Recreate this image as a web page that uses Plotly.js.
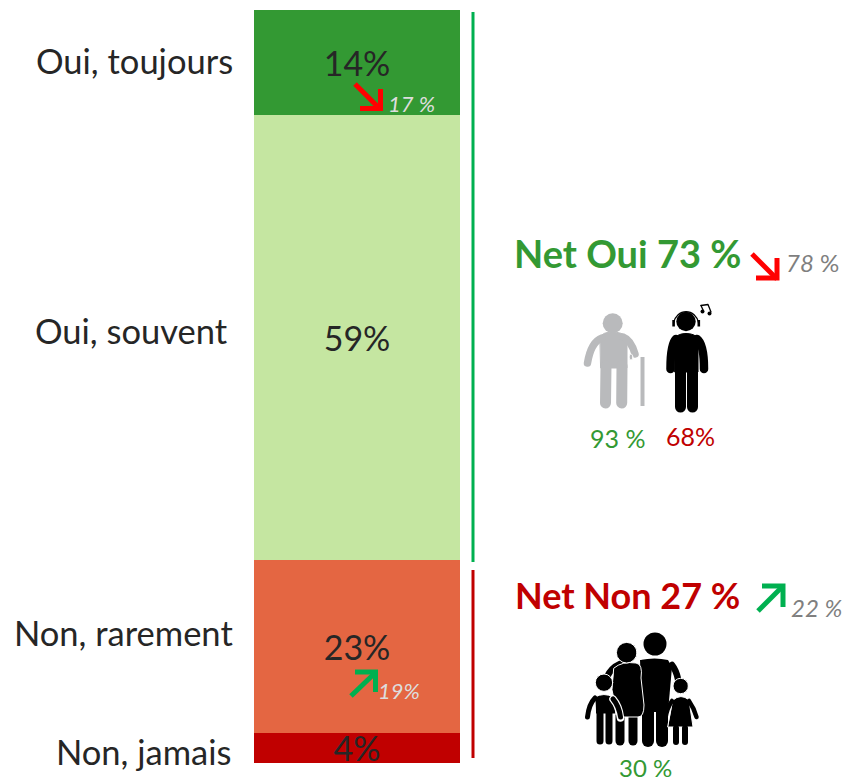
<!DOCTYPE html>
<html><head><meta charset="utf-8">
<script src="https://cdn.plot.ly/plotly-3.0.1.min.js"></script>
<style>html,body{margin:0;padding:0;background:#fff}#c{width:846px;height:782px}</style>
</head><body><div id="c"></div>
<script>
// Data
const categories = ['Oui, toujours','Oui, souvent','Non, rarement','Non, jamais'];
const values = [14,59,23,4];
const barColors = ['#339933','#C5E6A1','#E46642','#C00000'];
const previousBar = ['17 %','19%'];
const netLabels = ['Net Oui 73 %','Net Non 27 %'];
const previousNet = ['<i>78</i> %','<i>22 %</i>'];
const profileLabels = ['93 %','68%','30 %'];

const W=846,H=782,L=254,R=460,T=10,B=763;
const px=x=>(x-L)/(R-L), py=y=>1-(y-T)/(B-T);
const FONT='Lato, Carlito, Calibri, sans-serif';
const DARK='#262626',GREEN='#339933',RED='#C00000',GREY='#7F7F7F',LIGHT='#DDDDDD',ARROW_G='#00B050',ARROW_R='#FF0000';

const traces = categories.map((c,i)=>({
  type:'bar', x:['Total'], y:[values[i]], name:c, orientation:'v',
  marker:{color:barColors[i],line:{width:0}},
  text:[values[i]+'%'], textposition:'inside', insidetextanchor:'middle', textangle:0,
  constraintext:'none', textfont:{family:FONT,size:34,color:DARK}, hoverinfo:'name+y'
}));

function ann(text,x,y,size,color){
  return {text,xref:'paper',yref:'paper',x:px(x),y:py(y),xanchor:'center',yanchor:'middle',
    showarrow:false,font:{family:FONT,size,color},borderpad:0};
}
const annotations=[
  ann(categories[0],134.5,60.5,34.5,DARK),
  ann(categories[1],131.5,330.5,34.5,DARK),
  ann(categories[2],123,632.5,34.5,DARK),
  ann(categories[3],143.5,751.5,34.5,DARK),
  ann('<i>'+previousBar[0]+'</i>',411,103,22,LIGHT),
  ann('<i>'+previousBar[1]+'</i>',399,690.5,22,LIGHT),
  ann('<b>'+netLabels[0]+'</b>',627.5,253,38,GREEN),
  ann('<b>'+netLabels[1]+'</b>',627.5,595,36,RED),
  ann(previousNet[0],812.5,263,24,GREY),
  ann(previousNet[1],816,607,24,GREY),
  ann(profileLabels[0],617.5,437.5,25,GREEN),
  ann(profileLabels[1],690.5,435.5,25,RED),
  ann(profileLabels[2],645,767.5,24,GREEN)
];

function poly(points,color,w){
  return {type:'path',xref:'paper',yref:'paper',layer:'above',
    path:points.map((p,i)=>(i?'L':'M')+px(p[0])+','+py(p[1])).join(' '),
    line:{color,width:w},fillcolor:'rgba(0,0,0,0)'};
}
function vline(x,y0,y1,color){
  return {type:'line',xref:'paper',yref:'paper',x0:px(x),x1:px(x),y0:py(y0),y1:py(y1),line:{color,width:3}};
}
const shapes=[
  vline(473,12,562,ARROW_G),
  vline(473,570,758,RED),
  poly([[355,84],[380,109]],ARROW_R,5),
  poly([[360,108.5],[380.5,108.5],[380.5,89]],ARROW_R,5),
  poly([[752,254],[777,279]],ARROW_R,5),
  poly([[756,278],[777,278],[777,258]],ARROW_R,5),
  poly([[758,611],[783,586]],ARROW_G,5),
  poly([[762,586],[783,586],[783,607]],ARROW_G,5),
  poly([[351,696],[376,672]],ARROW_G,5),
  poly([[355,672],[375.5,672],[375.5,692]],ARROW_G,5)
];

// Pictograms: small inline SVGs placed in the layout
function picto(body,x0,y0,w,h){
  const svg=`<svg xmlns="http://www.w3.org/2000/svg" width="${w*3}" height="${h*3}" viewBox="${x0} ${y0} ${w} ${h}">${body}</svg>`;
  return {source:'data:image/svg+xml;charset=utf-8,'+encodeURIComponent(svg),xref:'paper',yref:'paper',
    x:px(x0),y:py(y0),sizex:w/(R-L),sizey:h/(B-T),xanchor:'left',yanchor:'top',sizing:'stretch',layer:'above'};
}
const elder=`<g fill="none" stroke="#B9BABC" stroke-linecap="round" stroke-linejoin="round">
<circle cx="612.7" cy="323.3" r="10" fill="#B9BABC" stroke="none"/>
<path d="M600,337 Q603,332 612,332 Q622,332 627,337 L627,368 L601,368 Z" fill="#B9BABC" stroke="#B9BABC" stroke-width="1"/>
<path d="M602,338 Q591,342 587.5,363" stroke-width="7.5"/>
<path d="M623,337 Q631,340 635,354" stroke-width="7.5"/>
<path d="M606,366 L605.5,403" stroke-width="11"/>
<path d="M622,366 L621.7,403" stroke-width="11"/>
<path d="M642.5,357 L642.5,406" stroke-width="4" stroke-linecap="butt"/>
<ellipse cx="631" cy="357" rx="1.8" ry="3" fill="#B9BABC" stroke="#fff" stroke-width="0.8"/>
</g>`;
const youth=`<g fill="none" stroke="#000" stroke-linecap="round" stroke-linejoin="round">
<circle cx="686" cy="321.5" r="9.7" fill="#000" stroke="none"/>
<path d="M673.5,323 A13,15 0 0 1 698.7,323" stroke-width="1.3"/>
<rect x="672.3" y="320" width="2.6" height="6.5" fill="#000" stroke="none"/>
<rect x="697.5" y="320" width="2.6" height="6.5" fill="#000" stroke="none"/>
<path d="M675,338 Q678,333.5 686,333.5 Q694,333.5 698,338 L698,372 L675,372 Z" fill="#000" stroke="#000"/>
<path d="M676,339 Q670.5,344 670.5,369" stroke-width="8.5"/>
<path d="M697,339 Q704,344 704,369" stroke-width="8.5"/>
<path d="M680.5,370 L680.5,407" stroke-width="11"/>
<path d="M692.5,370 L692.5,407" stroke-width="11"/>
<path d="M701,305.5 L708,304.5 L711,312" stroke-width="1.3"/>
<circle cx="702.5" cy="311.5" r="2" fill="#000" stroke="none"/>
<circle cx="709.5" cy="313.5" r="2" fill="#000" stroke="none"/>
<path d="M701,305.5 L703.5,311" stroke-width="1.3"/>
</g>`;
const family=`<g fill="#000" stroke-linecap="round" stroke-linejoin="round">
<circle cx="655" cy="644" r="11.5"/>
<g fill="none" stroke="#000"><path d="M672,665 Q676,670 678,679" stroke-width="6.5"/>
<path d="M648,708 L648,741" stroke-width="12"/><path d="M662,708 L662,741" stroke-width="12"/></g>
<path d="M640,660 Q655,657 668,660 L672,667 L668,712 L642,712 Z"/>
<path d="M641,659 L626,661" fill="none" stroke="#fff" stroke-width="1.5"/>
<g fill="none" stroke="#000"><path d="M620,664 Q611,668 607,677" stroke-width="6.5"/>
<path d="M620,715 L620,741" stroke-width="9"/><path d="M633,715 L633,741" stroke-width="9"/></g>
<path d="M614,668 Q622,661 636,663 Q643,664 641,678 L644,705 Q644,717 638,717 L618,717 L612,690 Z" stroke="#fff" stroke-width="1"/>
<circle cx="626.7" cy="652.7" r="10.3" stroke="#fff" stroke-width="1"/>
<path d="M595,697 Q604,692 613,697 L616,714 L596,714 Z" stroke="#fff" stroke-width="1"/>
<g fill="none" stroke="#fff" stroke-width="7.5"><path d="M613,699 Q619,706 620.5,718"/></g>
<g fill="none" stroke="#000"><path d="M595,698 Q589,704 587.5,717" stroke-width="5"/>
<path d="M613,699 Q619,706 620.5,717" stroke-width="5"/>
<path d="M600,712 L600,741" stroke-width="7"/><path d="M609,712 L609,741" stroke-width="7"/></g>
<circle cx="604" cy="682.7" r="8.7" stroke="#fff" stroke-width="1"/>
<path d="M673,700 Q681,693 689,700 L693,727 L668,727 Z" stroke="#fff" stroke-width="1"/>
<g fill="none" stroke="#000"><path d="M672,701 Q667,708 665.5,718" stroke-width="4.5"/>
<path d="M689,701 Q694,708 696.5,717" stroke-width="4.5"/>
<path d="M676,728 L676,742" stroke-width="6"/><path d="M685,728 L685,742" stroke-width="6"/></g>
<circle cx="680.7" cy="686" r="7.7" stroke="#fff" stroke-width="1"/>
</g>`;
const images=[picto(elder,580,310,68,102),picto(youth,664,300,52,116),picto(family,580,628,124,122)];

const layout={
  width:W,height:H,paper_bgcolor:'#fff',plot_bgcolor:'#fff',showlegend:false,
  barmode:'stack',bargap:0,
  margin:{l:L,r:W-R,t:T,b:H-B,pad:0},
  xaxis:{visible:false,type:'category',fixedrange:true},
  yaxis:{visible:false,range:[100,0],fixedrange:true},
  annotations,shapes,images,font:{family:FONT}
};
Plotly.newPlot('c',traces,layout,{displayModeBar:false,staticPlot:true});
</script></body></html>
